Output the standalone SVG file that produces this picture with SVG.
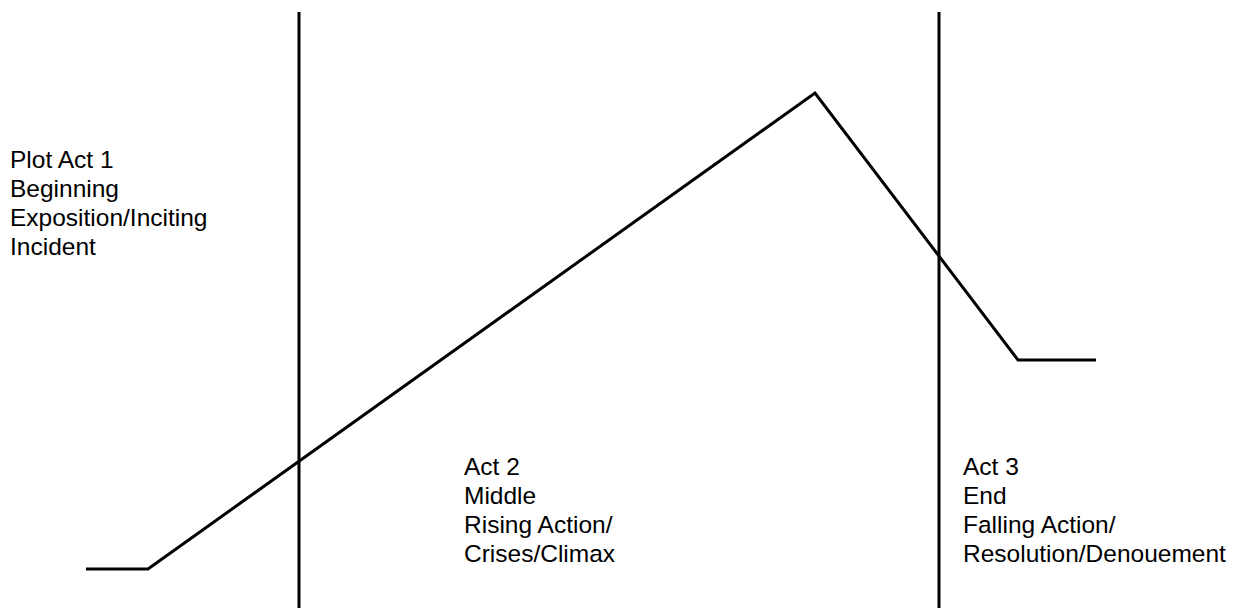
<svg xmlns="http://www.w3.org/2000/svg" width="1237" height="608" viewBox="0 0 1237 608">
  <style>
    .ln { fill: none; stroke: #000; stroke-width: 3; }
    .lbl { font-family: "Liberation Sans", Arial, sans-serif; font-size: 24.5px; fill: #000; }
  </style>
  <rect width="1237" height="608" fill="#fff"/>
  <g id="dividers">
    <line class="ln" x1="299" y1="12" x2="299" y2="608"/>
    <line class="ln" x1="939" y1="12" x2="939" y2="608"/>
  </g>
  <g id="plot-curve">
    <polyline class="ln" points="86,569 148,569 815,93 1018,360 1096,360"/>
  </g>
  <g id="act1">
    <text class="lbl" x="10" y="168">Plot Act 1</text>
    <text class="lbl" x="10" y="197">Beginning</text>
    <text class="lbl" x="10" y="226">Exposition/Inciting</text>
    <text class="lbl" x="10" y="255">Incident</text>
  </g>
  <g id="act2">
    <text class="lbl" x="464" y="475">Act 2</text>
    <text class="lbl" x="464" y="504">Middle</text>
    <text class="lbl" x="464" y="533">Rising Action/</text>
    <text class="lbl" x="464" y="562">Crises/Climax</text>
  </g>
  <g id="act3">
    <text class="lbl" x="963" y="475">Act 3</text>
    <text class="lbl" x="963" y="504">End</text>
    <text class="lbl" x="963" y="533">Falling Action/</text>
    <text class="lbl" x="963" y="562">Resolution/Denouement</text>
  </g>
</svg>
